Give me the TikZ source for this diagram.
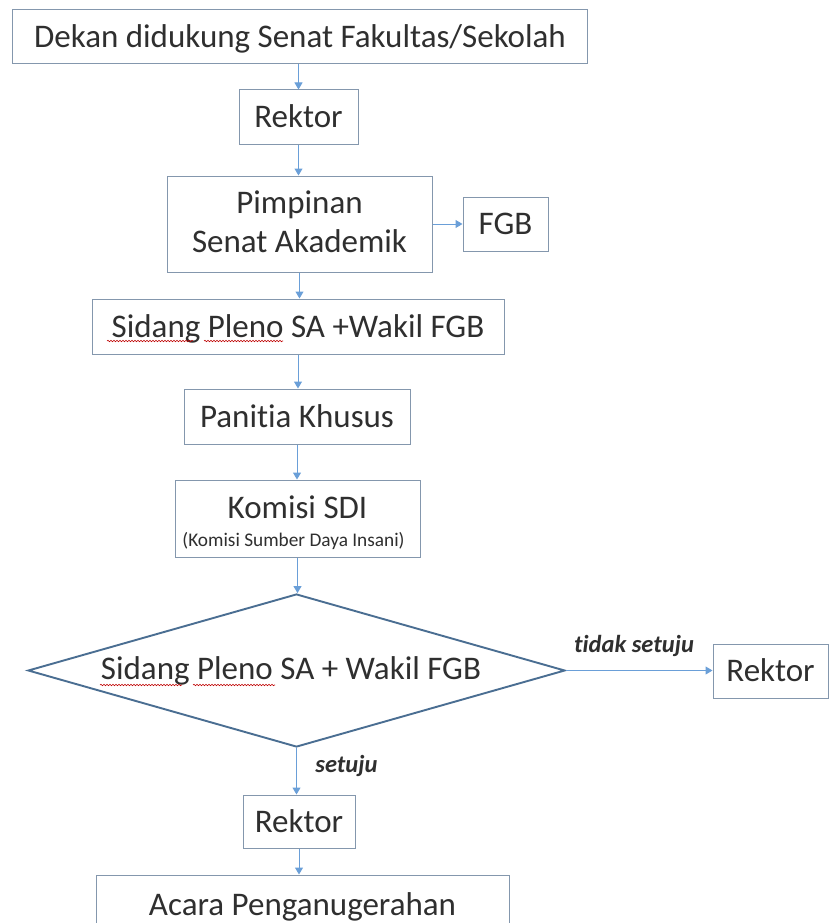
\documentclass[tikz,border=0pt]{standalone}
\usepackage{fontspec}
\setmainfont{Carlito}[Ligatures=NoCommon]
\usetikzlibrary{arrows.meta,shapes.geometric,decorations.pathmorphing}
\definecolor{boxc}{HTML}{8497AD}
\definecolor{arrc}{HTML}{6A9FD8}
\definecolor{diac}{HTML}{4A6E92}
\definecolor{txt}{HTML}{2F2F2F}
\begin{document}
\begin{tikzpicture}[x=1pt,y=-1pt,
  box/.style={draw=boxc, line width=1pt, inner sep=0pt, text=txt, font=\fontsize{33}{39}\selectfont, text height=21.3pt, text depth=0pt},
  txtn/.style={inner sep=0pt, text=txt, font=\fontsize{33}{39}\selectfont, anchor=base},
  lbl/.style={inner sep=0pt, text=txt, font=\fontsize{24.5}{28}\selectfont\bfseries\itshape, anchor=base},
  arr/.style={draw=arrc, line width=1pt, -{Triangle[length=7pt,width=8pt]}},
  squig/.style={draw=red!75!black, line width=0.6pt, decorate, decoration={snake, amplitude=0.7pt, segment length=3pt}}]
\useasboundingbox (0,0) rectangle (829,923);
\clip (0,0) rectangle (829,923);
\fill[white] (0,0) rectangle (829,923);

\node[box, minimum width=575pt, minimum height=54pt] (top) at (300,37) {Dekan didukung Senat Fakultas/Sekolah};
\node[box, minimum width=119pt, minimum height=54pt] (r1) at (298.5,117) {Rektor};
\node[box, minimum width=265pt, minimum height=96pt] (pim) at (299.5,224) {};
\node[txtn] (pimt1) at (299.5,213) {Pimpinan};
\node[txtn] (pimt2) at (299.5,252) {Senat Akademik};
\node[box, minimum width=85pt, minimum height=54pt] (fgb) at (505.5,224) {FGB};
\node[box, minimum width=412pt, minimum height=55pt] (sid) at (298,326.5) {Sidang Pleno SA +Wakil FGB};
\node[box, minimum width=226pt, minimum height=55pt] (pan) at (297,416.5) {Panitia Khusus};
\node[box, minimum width=245pt, minimum height=77pt] (kom) at (297.5,518.5) {};
\node[txtn] (komt1) at (297.5,518) {Komisi SDI};
\node[txtn, font=\fontsize{19.3}{22}\selectfont] (komt2) at (293.5,546) {(Komisi Sumber Daya Insani)};
\node[draw=diac, line width=1.9pt, diamond, minimum width=537pt, minimum height=153pt, inner sep=0pt] (dia) at (296.5,670.5) {};
\node[txtn] (diat) at (291,679) {Sidang Pleno SA + Wakil FGB};
\node[box, minimum width=115pt, minimum height=54pt] (r2) at (770.5,671) {Rektor};
\node[box, minimum width=112pt, minimum height=53pt] (r3) at (299,821.5) {Rektor};
\node[box, minimum width=413pt, minimum height=60pt] (aca) at (302.5,905) {Acara Penganugerahan};

\draw[arr] (top.south -| r1.north) -- (r1.north);
\draw[arr] (r1.south) -- (r1.south |- pim.north);
\draw[arr] (pim.east) -- (pim.east -| fgb.west);
\draw[arr] (pim.south) -- (pim.south |- sid.north);
\draw[arr] (sid.south) -- (sid.south |- pan.north);
\draw[arr] (pan.south) -- (pan.south |- kom.north);
\draw[arr] (kom.south) -- (kom.south |- dia.north);
\draw[arr] (dia.east) -- (dia.east -| r2.west);
\draw[arr] (dia.south) -- (dia.south |- r3.north);
\draw[arr] (r3.south) -- (r3.south |- aca.north);

\node[lbl] (no) at (634,652) {tidak setuju};
\node[lbl] (yes) at (346.5,772) {setuju};

\draw[squig] (107,341) -- (193,341);
\draw[squig] (204,341) -- (283,341);
\draw[squig] (100,685) -- (182,685);
\draw[squig] (193,685) -- (275,685);
\end{tikzpicture}
\end{document}
